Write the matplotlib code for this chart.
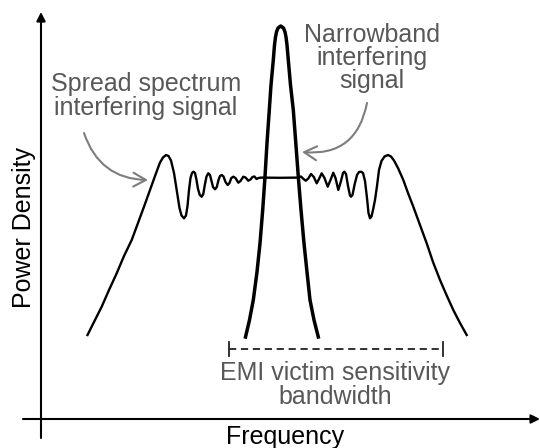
import matplotlib
matplotlib.use("Agg")
import matplotlib.pyplot as plt

plt.rcParams['font.family'] = ['Liberation Sans', 'DejaVu Sans']

# schematic drawn in picture units (x to the right, y downward, 540 x 448)

# spread spectrum interferer: sloped skirts, big side lobes, ripples, flat middle
spread_x = [87.5, 95, 101.7, 109, 116.7, 124, 131.7, 138, 144, 150, 156, 160, 163, 166,
            168.5, 171, 174, 177, 179.5, 181.5, 184, 186, 187.5, 189, 190.5, 192, 193.5,
            195, 196.5, 198, 199.8, 201.7, 203.3, 204.8, 206.5, 208.3, 210, 211.5, 213,
            215, 216.8, 218.5, 220, 221.7, 223.5, 225.5, 227.7, 229.5, 231.3, 233.3,
            235.5, 238.3, 240.5, 243.3, 245.5, 248.3, 250.5, 252.5, 254.5, 256.5, 258.5,
            261, 280, 298, 301, 303, 305.7, 308.3, 311, 313.8, 316.7, 319, 321.7, 324.5,
            327.7, 330.5, 333.3, 335.5, 338.3, 341, 343, 344.3, 346, 348, 350, 351,
            352.5, 354.5, 357, 359, 361, 363, 365, 367, 368.5, 370, 371.5, 373, 375,
            377, 379, 381.5, 384.5, 388, 391, 394, 398, 403.3, 408, 413.3, 420, 426.7,
            433, 440, 446.5, 453.3, 460, 466.7]
spread_y = [335, 320, 306.7, 290, 273.3, 256, 240, 223, 206.7, 190, 173.3, 162.5, 157.5, 155,
            156, 160.5, 173, 192, 208, 215.5, 218.3, 215.5, 206, 190, 178, 173, 171.7,
            173, 180, 189, 195, 196.7, 194, 185, 176.5, 173.3, 175, 181, 187,
            189.3, 187, 180, 176, 175, 176.5, 182, 185, 183, 178, 176.7,
            178, 182.7, 181, 176.7, 177.5, 180.7, 179.5, 177, 176.5, 179, 178,
            177.6, 177.8, 177.6, 176.5, 178.5, 180.7, 178.5, 174, 177, 183.3, 179, 173.3, 178,
            186.7, 180, 172.7, 178, 190, 181, 173, 171.7, 174, 186, 195.5, 196.7,
            195, 185, 175, 172, 171.7, 173, 181, 198, 213, 218.3, 216.5, 210, 200,
            186, 170, 161, 156.5, 155, 156.5, 160.5, 168, 180, 193, 206.7, 225, 243.3,
            262, 280, 295, 310, 323, 335]

# narrowband interferer: tall thin peak
narrow_x = [245.5, 249.5, 253.3, 257, 260, 262.7, 265, 267, 269.3, 271, 273.3, 274.5,
            275.5, 276.5, 278, 280.7, 283.5, 285, 286, 287, 288.3, 290.5, 293.3, 295.8,
            298.3, 301, 304, 307, 310, 314, 318.3]
narrow_y = [337, 320, 300, 272, 243.3, 210, 176.7, 143, 110, 85, 60, 45,
            37, 32, 28, 26, 28, 32, 37, 45, 60, 85, 110, 143,
            176.7, 210, 243.3, 272, 300, 320, 337]

# victim sensitivity bandwidth
band_edges = [228.6, 443]
band_level = 349

grey = '#585858'
arrow_grey = '#7d7d7d'

fig = plt.figure(figsize=(5.4, 4.48), dpi=100)
ax = fig.add_axes([0, 0, 1, 1])
ax.set_xlim(0, 540)
ax.set_ylim(448, 0)
ax.axis('off')

# axes with arrow heads
axis_arrow = dict(arrowstyle='-|>', color='black', lw=1.5, mutation_scale=13,
                  shrinkA=0, shrinkB=0)
ax.annotate('', xy=(41, 12), xytext=(41, 438), arrowprops=axis_arrow)
ax.annotate('', xy=(540, 419), xytext=(23, 419), arrowprops=axis_arrow)

ax.plot(spread_x, spread_y, color='black', lw=1.7, solid_joinstyle='round')
ax.plot(narrow_x, narrow_y, color='black', lw=2.5, solid_joinstyle='round')

# bandwidth bracket
ax.plot(band_edges, [band_level, band_level], color='#222222', lw=1.3,
        ls=(0, (4, 2.6)))
for bx in band_edges:
    ax.plot([bx, bx], [band_level - 7, band_level + 7], color='#222222', lw=1.3)

# labels
ax.text(146, 96, 'Spread spectrum\ninterfering signal', color=grey, fontsize=18,
        ha='center', va='center', linespacing=0.95)
ax.text(372, 58, 'Narrowband\ninterfering\nsignal', color=grey, fontsize=18,
        ha='center', va='center', linespacing=0.95)
ax.text(335, 385, 'EMI victim sensitivity\nbandwidth', color=grey, fontsize=18,
        ha='center', va='center', linespacing=0.95)
ax.text(285, 444, 'Frequency', color='black', fontsize=18, ha='center', va='baseline')
ax.text(24, 227, 'Power Density', color='black', fontsize=18, rotation=90,
        ha='center', va='center')

# pointer arrows
pointer = dict(arrowstyle='->, head_length=0.9, head_width=0.5', color=arrow_grey,
               lw=1.5, mutation_scale=10, shrinkA=0, shrinkB=0)
ax.annotate('', xy=(148, 180), xytext=(84, 133),
            arrowprops=dict(pointer, connectionstyle='arc3,rad=0.35'))
ax.annotate('', xy=(302, 152), xytext=(367, 103),
            arrowprops=dict(pointer, connectionstyle='arc3,rad=-0.45'))

fig.savefig('out.png', dpi=100)
